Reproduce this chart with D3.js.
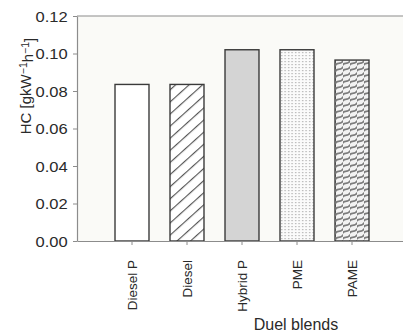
<!DOCTYPE html>
<html>
<head>
<meta charset="utf-8">
<script src="https://cdn.jsdelivr.net/npm/d3@7"></script>
<style>
  html, body { margin: 0; padding: 0; background: #fff; }
  svg { display: block; font-family: "Liberation Sans", Arial, Helvetica, sans-serif; }
</style>
</head>
<body>
<script>
// HC emissions for each fuel blend
const categories = ["Diesel P", "Diesel", "Hybrid P", "PME", "PAME"];
const hcValues = [0.0835, 0.0835, 0.102, 0.102, 0.0965];
const yTicks = [0, 0.02, 0.04, 0.06, 0.08, 0.10, 0.12];
const fillKinds = ["plain", "hatch", "grey", "dots", "weave"];

const W = 403, H = 332;
const plotLeft = 77, plotRight = 407, plotTop = 16, plotBottom = 241;

const svg = d3.select("body").append("svg").attr("width", W).attr("height", H);
const defs = svg.append("defs");

// diagonal hatching
const hatch = defs.append("pattern").attr("id", "hatch")
  .attr("patternUnits", "userSpaceOnUse").attr("width", 12.5).attr("height", 9)
  .attr("patternTransform", "rotate(-42)");
hatch.append("rect").attr("width", 12.5).attr("height", 9).attr("fill", "#fff");
hatch.append("line").attr("x1", 0).attr("y1", 0.5).attr("x2", 12.5).attr("y2", 0.5)
  .attr("stroke", "#555").attr("stroke-width", 1.3);

// fine dotted fill
const dots = defs.append("pattern").attr("id", "dots")
  .attr("patternUnits", "userSpaceOnUse").attr("width", 3.5).attr("height", 3);
dots.append("rect").attr("width", 3.5).attr("height", 3).attr("fill", "#fbfbfb");
dots.append("rect").attr("x", 1).attr("y", 1).attr("width", 1.3).attr("height", 1.2).attr("fill", "#b0b0b0");

// woven fill
const weave = defs.append("pattern").attr("id", "weave")
  .attr("patternUnits", "userSpaceOnUse").attr("width", 7).attr("height", 6);
weave.append("rect").attr("width", 7).attr("height", 6).attr("fill", "#f2f2f2");
weave.append("path").attr("d", "M-0.5,5.5 C1,1 4,6 7.5,0.5")
  .attr("fill", "none").attr("stroke", "#7c7c7c").attr("stroke-width", 1.6);

const fills = { plain: "#fff", hatch: "url(#hatch)", grey: "#d4d4d4", dots: "url(#dots)", weave: "url(#weave)" };

const x = d3.scaleBand().domain(categories).range([plotLeft, plotRight])
  .paddingInner(0.382).paddingOuter(0.691);
const y = d3.scaleLinear().domain([0, 0.12]).range([plotBottom, plotTop]);

// plot area background and top border
svg.append("rect").attr("x", plotLeft).attr("y", plotTop)
  .attr("width", plotRight - plotLeft).attr("height", plotBottom - plotTop)
  .attr("fill", "#fafaf7");
svg.append("line").attr("x1", plotLeft).attr("x2", plotRight).attr("y1", plotTop).attr("y2", plotTop)
  .attr("stroke", "#8c8c8c").attr("stroke-width", 1.2);

// bars
svg.append("g").selectAll("rect").data(categories).join("rect")
  .attr("x", d => x(d))
  .attr("y", (d, i) => y(hcValues[i]))
  .attr("width", x.bandwidth())
  .attr("height", (d, i) => y(0) - y(hcValues[i]))
  .attr("fill", (d, i) => fills[fillKinds[i]])
  .attr("stroke", "#3a3a3a").attr("stroke-width", 1.4);

// y axis
const yAxis = svg.append("g").attr("transform", `translate(${plotLeft},0)`)
  .call(d3.axisLeft(y).tickValues(yTicks).tickFormat(d3.format(".2f")).tickSize(4).tickSizeOuter(0));
yAxis.select(".domain").attr("stroke", "#8c8c8c").attr("stroke-width", 1.2);
yAxis.selectAll(".tick line").attr("stroke", "#8c8c8c");
yAxis.selectAll(".tick text")
  .attr("x", -9.3 / 1.18)
  .attr("transform", "scale(1.18,1)")
  .attr("dy", "0.36em")
  .style("font-size", "14px").attr("fill", "#2a2a2a");

// x axis
const xAxis = svg.append("g").attr("transform", `translate(0,${plotBottom})`)
  .call(d3.axisBottom(x).tickSize(4).tickSizeOuter(0));
xAxis.select(".domain").attr("stroke", "#8c8c8c").attr("stroke-width", 1.2);
xAxis.selectAll(".tick line").attr("stroke", "#8c8c8c");
xAxis.selectAll(".tick text")
  .attr("transform", "rotate(-90)")
  .attr("x", -19).attr("y", 0).attr("dy", "0.36em")
  .attr("text-anchor", "end")
  .style("font-size", "13.5px").attr("fill", "#2a2a2a");

// axis titles
svg.append("text").attr("x", 296).attr("y", 330)
  .attr("text-anchor", "middle").style("font-size", "16px").attr("fill", "#2a2a2a")
  .text("Duel blends");

const yTitle = svg.append("text")
  .attr("transform", "translate(31,86) rotate(-90)")
  .attr("text-anchor", "middle").style("font-size", "15px").attr("fill", "#2a2a2a");
yTitle.append("tspan").text("HC [gkW");
yTitle.append("tspan").attr("dy", "-0.4em").style("font-size", "10.5px").text("\u22121");
yTitle.append("tspan").attr("dy", "0.4em").text("h");
yTitle.append("tspan").attr("dy", "-0.4em").style("font-size", "10.5px").text("\u22121");
yTitle.append("tspan").attr("dy", "0.4em").text("]");
</script>
</body>
</html>
